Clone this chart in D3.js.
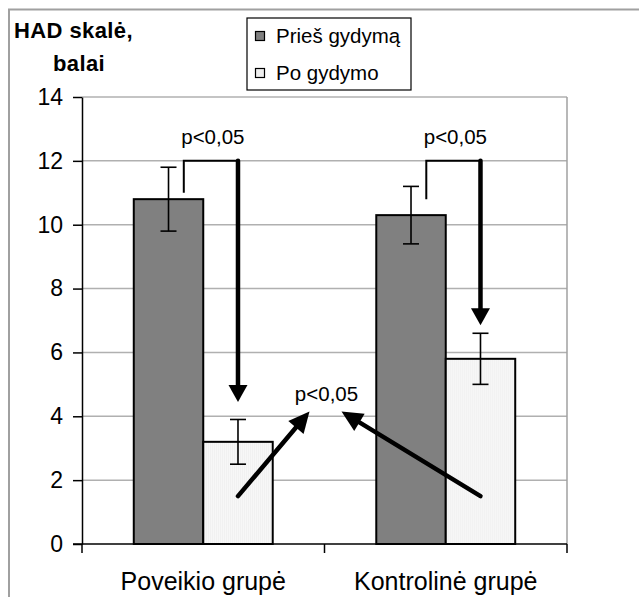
<!DOCTYPE html>
<html lang="lt">

<head>
	<meta charset="utf-8">
	<title> HAD skalė </title>
	<script src="https://d3js.org/d3.v7.min.js"></script>
	<style type="text/css">
		body { margin: 0; background: #fff; }
		text { font-family: "Liberation Sans", Arial, sans-serif; fill: #000; }
	</style>
</head>

<body>
	<script type="text/javascript">

	// data
	var categories = ["Poveikio grupė", "Kontrolinė grupė"]
	var seriesNames = ["Prieš gydymą", "Po gydymo"]
	var before = [10.8, 10.3]
	var after = [3.2, 5.8]
	var beforeErr = [1.0, 0.9]
	var afterErr = [0.7, 0.8]
	var yTicks = [0, 2, 4, 6, 8, 10, 12, 14]

	// annotation levels (in scale units)
	var bracketStart = [11.0, 10.8]
	var bracketTop = [12, 12]
	var arrowTip = [4.45, 6.85]
	var crossTail = 1.5
	var crossTip = 4.15
	var pLabel = "p<0,05"

	var w = 639
	var h = 597
	var margin = {left: 82, right: 72, top: 97, bottom: 53}

	var colors = {"Prieš gydymą": "#808080", "Po gydymo": "url(#stripes)"}

	var svg = d3.select("body")
				.append("svg")
				.attr("width", w)
				.attr("height", h)

	// fine vertical stripes of the light bars
	var pat = svg.append("defs").append("pattern")
		.attr("id", "stripes")
		.attr("patternUnits", "userSpaceOnUse")
		.attr("width", 2).attr("height", 4)
	pat.append("rect").attr("width", 2).attr("height", 4).attr("fill", "#f9f9f9")
	pat.append("rect").attr("width", 1).attr("height", 4).attr("fill", "#efefef")

	// outer frame
	svg.append("rect")
		.attr("x", 9).attr("y", 9.5)
		.attr("width", 700).attr("height", 700)
		.attr("fill", "none")
		.attr("stroke", "#a0a0a0")
		.attr("stroke-width", 2)

	// scales
	var x0 = d3.scaleBand()
		.domain(categories)
		.range([margin.left, w - margin.right])
		.paddingInner(0.427)
		.paddingOuter(0.2135)
	var x1 = d3.scaleBand()
		.domain(seriesNames)
		.range([0, x0.bandwidth()])
	var y = d3.scaleLinear()
		.domain([0, 14])
		.range([h - margin.bottom, margin.top])

	var x0Left = x0.range()[0], x0Right = x0.range()[1]

	// gridlines
	svg.append("g")
		.selectAll("line")
		.data(yTicks.filter(d => d > 0))
		.enter()
		.append("line")
		.attr("x1", x0Left).attr("x2", x0Right)
		.attr("y1", d => y(d)).attr("y2", d => y(d))
		.attr("stroke", "#b0b0b0")
		.attr("stroke-width", 1.5)
	// plot area right edge
	svg.append("line")
		.attr("x1", x0Right).attr("x2", x0Right)
		.attr("y1", y(14)).attr("y2", y(0))
		.attr("stroke", "#a0a0a0")
		.attr("stroke-width", 1.5)

	// bars
	var rows = categories.map((c, i) => ({
		cat: c,
		vals: [
			{name: seriesNames[0], v: before[i], e: beforeErr[i]},
			{name: seriesNames[1], v: after[i], e: afterErr[i]}
		]
	}))

	var groups = svg.append("g")
		.selectAll("g")
		.data(rows)
		.enter()
		.append("g")
		.attr("transform", d => "translate(" + x0(d.cat) + ",0)")

	groups.selectAll("rect")
		.data(d => d.vals)
		.enter()
		.append("rect")
		.attr("x", d => x1(d.name))
		.attr("y", d => y(d.v))
		.attr("width", x1.bandwidth())
		.attr("height", d => y(0) - y(d.v))
		.attr("fill", d => colors[d.name])
		.attr("stroke", "#000")
		.attr("stroke-width", 2)

	// error bars
	var cap = 8
	var eb = groups.selectAll("g.err")
		.data(d => d.vals)
		.enter()
		.append("g")
		.attr("class", "err")
		.attr("stroke", "#000")
		.attr("stroke-width", 1.6)
	eb.append("line")
		.attr("x1", d => x1(d.name) + x1.bandwidth() / 2)
		.attr("x2", d => x1(d.name) + x1.bandwidth() / 2)
		.attr("y1", d => y(d.v + d.e)).attr("y2", d => y(d.v - d.e))
	eb.append("line")
		.attr("x1", d => x1(d.name) + x1.bandwidth() / 2 - cap)
		.attr("x2", d => x1(d.name) + x1.bandwidth() / 2 + cap)
		.attr("y1", d => y(d.v + d.e)).attr("y2", d => y(d.v + d.e))
	eb.append("line")
		.attr("x1", d => x1(d.name) + x1.bandwidth() / 2 - cap)
		.attr("x2", d => x1(d.name) + x1.bandwidth() / 2 + cap)
		.attr("y1", d => y(d.v - d.e)).attr("y2", d => y(d.v - d.e))

	// y axis
	var yAxis = d3.axisLeft(y)
		.tickValues(yTicks)
		.tickSizeInner(9)
		.tickSizeOuter(0)
		.tickPadding(10)
	var gy = svg.append("g")
		.attr("transform", "translate(" + x0Left + ",0)")
		.call(yAxis)
	gy.select(".domain").attr("stroke", "#000").attr("stroke-width", 1.5)
	gy.selectAll(".tick line").attr("stroke", "#000").attr("stroke-width", 1.5)
	gy.selectAll("text")
		.style("font-family", "'Liberation Sans', Arial, sans-serif")
		.style("font-size", "23px")
		.attr("fill", "#000")

	// x axis: baseline, ticks at band boundaries, labels at centres
	svg.append("line")
		.attr("x1", x0Left - 9).attr("x2", x0Right)
		.attr("y1", y(0)).attr("y2", y(0))
		.attr("stroke", "#000").attr("stroke-width", 1.5)
	var bounds = [x0Left].concat(categories.map(c => x0(c) + x0.bandwidth() + x0.step() * x0.paddingInner() / 2))
	bounds[bounds.length - 1] = x0Right
	svg.append("g")
		.selectAll("line")
		.data(bounds)
		.enter()
		.append("line")
		.attr("x1", d => d).attr("x2", d => d)
		.attr("y1", y(0)).attr("y2", y(0) + 9)
		.attr("stroke", "#000").attr("stroke-width", 1.5)
	svg.append("g")
		.selectAll("text")
		.data(categories)
		.enter()
		.append("text")
		.attr("x", d => x0(d) + x0.bandwidth() / 2)
		.attr("y", h - 7)
		.attr("text-anchor", "middle")
		.style("font-size", "25px")
		.text(d => d)

	// y title
	svg.append("text")
		.attr("x", 14).attr("y", 38)
		.style("font-size", "22px").style("font-weight", "bold")
		.style("letter-spacing", "0.4px")
		.text("HAD skalė,")
	svg.append("text")
		.attr("x", 53).attr("y", 71)
		.style("font-size", "22px").style("font-weight", "bold")
		.style("letter-spacing", "0.4px")
		.text("balai")

	// legend
	var lg = svg.append("g").attr("transform", "translate(247,18)")
	lg.append("rect")
		.attr("width", 164).attr("height", 72)
		.attr("fill", "#fff").attr("stroke", "#000").attr("stroke-width", 1.2)
	var li = lg.selectAll("g.item")
		.data(seriesNames)
		.enter()
		.append("g")
		.attr("class", "item")
		.attr("transform", (d, i) => "translate(0," + (i * 37) + ")")
	li.append("rect")
		.attr("x", 8.5).attr("y", 13.5)
		.attr("width", 9).attr("height", 9)
		.attr("fill", d => d === seriesNames[0] ? "#808080" : "#efefef")
		.attr("stroke", "#000").attr("stroke-width", 1.2)
	li.append("text")
		.attr("x", 29).attr("y", 25)
		.style("font-size", "20.5px")
		.text(d => d)

	// arrow helper: shaft + triangular head
	function arrow(xa, ya, xb, yb, sw, headLen, headW) {
		var dx = xb - xa, dy = yb - ya
		var len = Math.sqrt(dx * dx + dy * dy)
		var ux = dx / len, uy = dy / len
		var bx = xb - ux * headLen, by = yb - uy * headLen
		svg.append("line")
			.attr("x1", xa).attr("y1", ya)
			.attr("x2", bx).attr("y2", by)
			.attr("stroke", "#000").attr("stroke-width", sw)
			.attr("stroke-linecap", "round")
		svg.append("path")
			.attr("d", "M" + xb + "," + yb +
				"L" + (bx - uy * headW / 2) + "," + (by + ux * headW / 2) +
				"L" + (bx + uy * headW / 2) + "," + (by - ux * headW / 2) + "Z")
			.attr("fill", "#000")
	}

	// brackets and down arrows inside each group
	categories.forEach(function(c, i) {
		var xl = x0(c) + x1(seriesNames[0]) + x1.bandwidth() * 0.72
		var xr = x0(c) + x1(seriesNames[1]) + x1.bandwidth() / 2
		svg.append("path")
			.attr("d", "M" + xl + "," + y(bracketStart[i]) + "V" + y(bracketTop[i]) + "H" + xr)
			.attr("fill", "none")
			.attr("stroke", "#000").attr("stroke-width", 2)
		arrow(xr, y(bracketTop[i]), xr, y(arrowTip[i]), 4.5, 17, 19)
		svg.append("text")
			.attr("x", (xl + xr) / 2 + 2)
			.attr("y", y(bracketTop[i]) - 17)
			.attr("text-anchor", "middle")
			.style("font-size", "20.5px")
			.text(pLabel)
	})

	// between-group comparison
	var mid = bounds[1]
	var lightCx = categories.map(c => x0(c) + x1(seriesNames[1]) + x1.bandwidth() / 2)
	arrow(lightCx[0], y(crossTail), mid - 15, y(crossTip), 4.5, 21, 20)
	arrow(lightCx[1], y(crossTail), mid + 17, y(crossTip), 4.5, 21, 20)
	svg.append("text")
		.attr("x", mid + 2)
		.attr("y", y(crossTip) - 10)
		.attr("text-anchor", "middle")
		.style("font-size", "20.5px")
		.text(pLabel)

	</script>
</body>
</html>
